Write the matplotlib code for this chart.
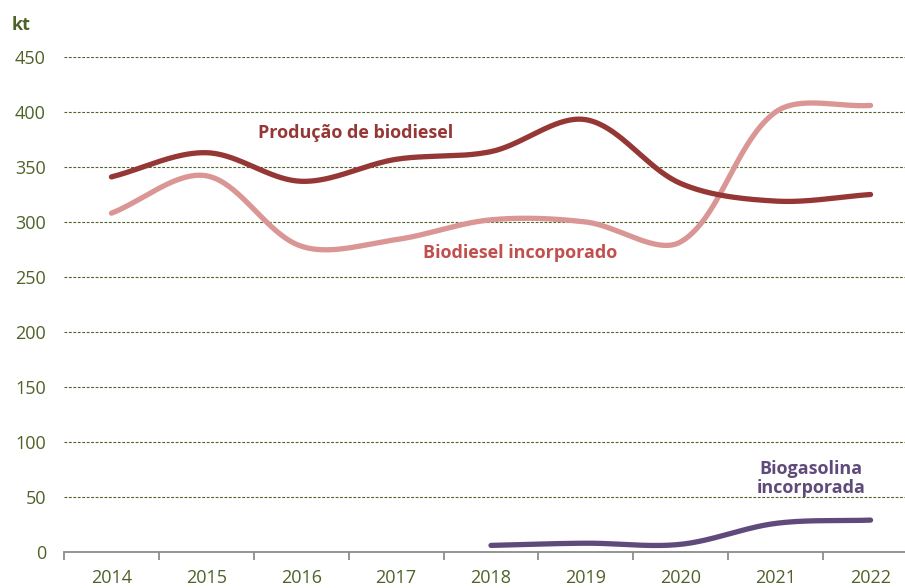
import numpy as np
import matplotlib
matplotlib.use("Agg")
import matplotlib.pyplot as plt

years = ["2014", "2015", "2016", "2017", "2018", "2019", "2020", "2021", "2022"]
producao = [341, 363, 337, 357, 364, 393, 335, 319, 325]
incorporado = [308, 342, 278, 284, 302, 300, 282, 400, 406]
gasolina_years = ["2018", "2019", "2020", "2021", "2022"]
gasolina = [6, 8, 7, 26, 29]

OLIVE = "#4f6228"


def smooth(x, y, n=40, sx=94.9, sy=1.1):
    # Bezier through the points, control arms scaled by neighbour segment length
    # (roughly what Excel does for "smoothed line")
    x = np.asarray(x, float) * sx
    y = np.asarray(y, float) * sy
    P = np.column_stack([x, y])
    P = np.vstack([P[0], P, P[-1]])
    t = np.linspace(0, 1, n)[:, None]
    out = []
    for i in range(1, len(P) - 2):
        p0, p1, p2, p3 = P[i - 1], P[i], P[i + 1], P[i + 2]
        d01 = np.hypot(*(p1 - p0)); d12 = np.hypot(*(p2 - p1)); d23 = np.hypot(*(p3 - p2))
        w1 = d12 / (d01 + d12) if d01 + d12 else 0.5
        w2 = d12 / (d12 + d23) if d12 + d23 else 0.5
        c1 = p1 + (p2 - p0) * w1 / 3
        c2 = p2 - (p3 - p1) * w2 / 3
        seg = (1 - t) ** 3 * p1 + 3 * (1 - t) ** 2 * t * c1 + 3 * (1 - t) * t ** 2 * c2 + t ** 3 * p2
        out.append(seg)
    out = np.vstack(out)
    return out[:, 0] / sx, out[:, 1] / sy


plt.rcParams["font.family"] = ["Open Sans", "DejaVu Sans"]
fig = plt.figure(figsize=(9.05, 5.88), dpi=100)
ax = fig.add_axes([64 / 905, 1 - 552 / 588, (918 - 64) / 905, 495 / 588])

xi = np.arange(len(years))
x1, y1 = smooth(xi, producao)
x2, y2 = smooth(xi, incorporado)
gx = np.array([years.index(g) for g in gasolina_years])
x3, y3 = smooth(gx, gasolina)

ax.plot(x2, y2, color="#d99694", lw=3.8, solid_capstyle="round", zorder=3)
ax.plot(x1, y1, color="#953735", lw=3.8, solid_capstyle="round", zorder=4)
ax.plot(x3, y3, color="#604a7b", lw=3.8, solid_capstyle="round", zorder=3)

ax.set_xlim(-0.5, len(years) - 0.5)
ax.set_ylim(0, 450)
ax.set_yticks(range(0, 451, 50))
ax.set_xticks(xi)
ax.set_xticklabels(years)
ax.set_xticks(np.arange(-0.5, len(years), 1), minor=True)
ax.yaxis.grid(True, linestyle=(0, (2.5, 1.5)), color=OLIVE, lw=0.8)
ax.set_axisbelow(True)
for s in ["top", "right", "left"]:
    ax.spines[s].set_visible(False)
ax.spines["bottom"].set_color("#8c8c8c")
ax.spines["bottom"].set_linewidth(1.3)
ax.tick_params(axis="y", length=0, pad=13, labelsize=13, labelcolor=OLIVE)
ax.tick_params(axis="x", which="major", length=0, pad=12, labelsize=13, labelcolor=OLIVE)
ax.tick_params(axis="x", which="minor", length=6, width=1.3, color="#8c8c8c")

ax.text(2.57, 381, "Produção de biodiesel", color="#953735", fontsize=13,
        fontweight="bold", ha="center", va="center")
ax.text(4.31, 272, "Biodiesel incorporado", color="#c0504d", fontsize=13,
        fontweight="bold", ha="center", va="center")
ax.text(7.37, 67, "Biogasolina\nincorporada", color="#604a7b", fontsize=13,
        fontweight="bold", ha="center", va="center", linespacing=1.05)
fig.text(12 / 905, 1 - 25 / 588, "kt", color=OLIVE, fontsize=13,
         fontweight="bold", ha="left", va="center")

fig.savefig("out.png", dpi=100)
